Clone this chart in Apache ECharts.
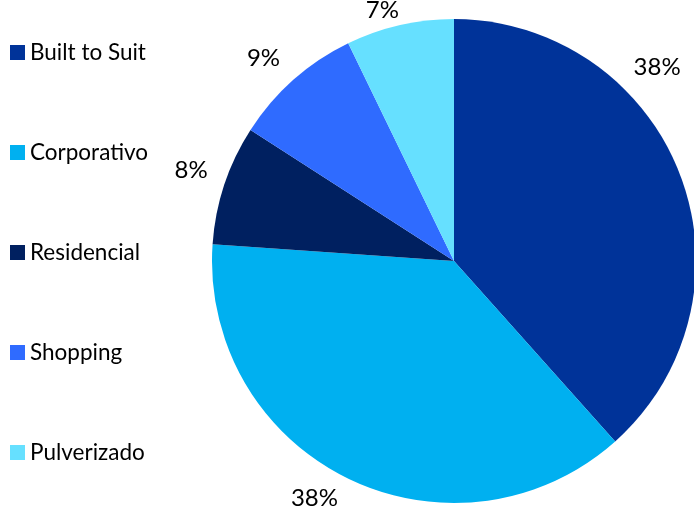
<!DOCTYPE html>
<html><head><meta charset="utf-8">
<script src="https://cdn.jsdelivr.net/npm/echarts@6/dist/echarts.min.js"></script>
<style>html,body{margin:0;padding:0;background:#fff}#c{width:694px;height:511px}</style>
</head><body><div id="c"></div>
<script>
const categories = ['Built to Suit', 'Corporativo', 'Residencial', 'Shopping', 'Pulverizado'];
const values = [38.4, 37.7, 8.0, 8.7, 7.2];
const colors = ['#003399', '#00B0F0', '#002060', '#2F6BFF', '#66E0FF'];
const labelShift = [[-59, -105], [-1, 13], [-4, -12], [-3, -16], [6, -7]];

const chart = echarts.init(document.getElementById('c'), null, {renderer: 'canvas'});
chart.setOption({
  animation: false,
  backgroundColor: '#ffffff',
  legend: {
    orient: 'vertical', left: 5, top: 36,
    itemWidth: 15, itemHeight: 15, itemGap: 77, icon: 'rect',
    textStyle: {fontFamily: 'Lato', fontSize: 22.5, color: '#000', lineHeight: 22.5},
    data: categories
  },
  series: [{
    type: 'pie',
    center: [454, 261], radius: 242,
    startAngle: 90, clockwise: true,
    data: categories.map((c, i) => ({name: c, value: values[i], itemStyle: {color: colors[i]}})),
    label: {show: true, position: 'outside', fontFamily: 'Lato', fontSize: 24, color: '#000',
      overflow: 'none', formatter: p => Math.round(p.percent) + '%'},
    labelLine: {show: false, length: 8, length2: 0},
    labelLayout: p => ({dx: labelShift[p.dataIndex][0], dy: labelShift[p.dataIndex][1]}),
    emphasis: {disabled: true}
  }]
});
</script></body></html>
